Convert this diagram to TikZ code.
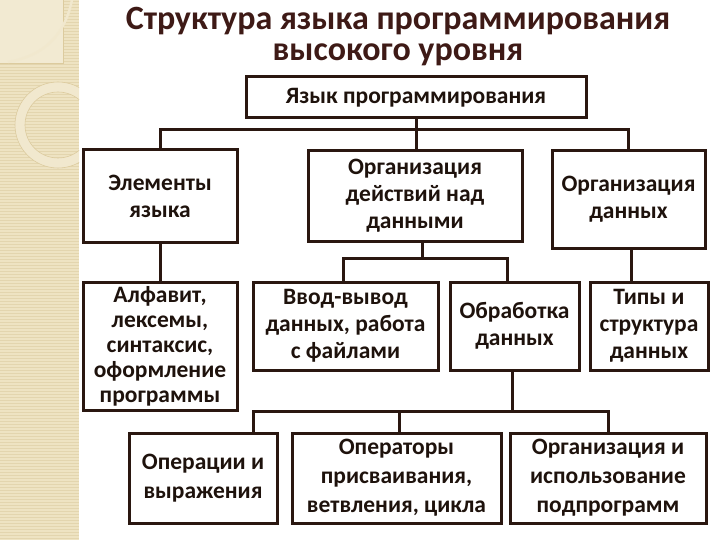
\documentclass[tikz,border=0pt]{standalone}
\usepackage{fontspec}
\setmainfont{Carlito}
\definecolor{linec}{HTML}{2A1710}
\definecolor{textc}{HTML}{1E120C}
\definecolor{titlec}{HTML}{3E1A16}
\definecolor{beige}{HTML}{EEE3C2}
\definecolor{texc}{HTML}{E3D5AE}
\definecolor{lightb}{HTML}{F2EAD2}
\definecolor{ringc}{HTML}{F1E8CE}
\definecolor{edgec}{HTML}{DCCB9E}
\begin{document}
\begin{tikzpicture}[x=1pt,y=-1pt,
  box/.style={draw=linec, line width=3pt, fill=white, align=center, inner sep=0pt,
    text=textc, font=\bfseries\fontsize{23.5}{27}\selectfont},
  conn/.style={draw=linec, line width=3pt}]
\useasboundingbox (0,0) rectangle (720,540);
\fill[white] (0,0) rectangle (720,540);
% left decorative strip
\fill[beige] (0,0) rectangle (79,540);
\foreach \i in {1,4,...,540} \draw[texc, line width=0.7pt] (0,\i) -- (79,\i);
\fill[lightb] (0,0) rectangle (63,63);
\draw[edgec, line width=0.8pt] (63,0) -- (63,63) -- (0,63);
\draw[ringc, line width=2.5pt] (72,0) .. controls (64,38) and (42,56) .. (8,62);
\begin{scope}
  \clip (0,0) rectangle (79,540);
  \fill[ringc, even odd rule] (58,125) circle[radius=43pt] (58,125) circle[radius=33pt];
  \draw[edgec, line width=0.6pt] (58,125) circle[radius=43pt] (58,125) circle[radius=33pt];
\end{scope}
% title
\node[text=titlec, font=\bfseries\fontsize{34}{31}\selectfont, align=center, anchor=center] (title) at (398,37)
  {Структура языка программирования\\высокого уровня};
% boxes
\node[box, minimum width=340pt, minimum height=41pt] (top) at (416,97.5) {Язык программирования};
\node[box, minimum width=154pt, minimum height=92pt] (elem) at (160,196) {Элементы\\языка};
\node[box, minimum width=214pt, minimum height=90pt] (act) at (415,196) {Организация\\действий над\\данными};
\node[box, minimum width=153pt, minimum height=97pt] (orgd) at (628.5,199.5) {Организация\\данных};
\node[box, minimum width=154pt, minimum height=128pt, font=\bfseries\fontsize{23.5}{25}\selectfont] (alf) at (160,346) {Алфавит,\\лексемы,\\синтаксис,\\оформление\\программы};
\node[box, minimum width=185pt, minimum height=88pt] (vvod) at (345.5,326) {Ввод-вывод\\данных, работа\\с файлами};
\node[box, minimum width=129pt, minimum height=88pt] (obr) at (514.5,326) {Обработка\\данных};
\node[box, minimum width=118pt, minimum height=88pt] (tip) at (649,326) {Типы и\\структура\\данных};
\node[box, minimum width=148pt, minimum height=90pt, font=\bfseries\fontsize{23.5}{29}\selectfont] (oper) at (203,478) {Операции и\\выражения};
\node[box, minimum width=209pt, minimum height=90pt, font=\bfseries\fontsize{23.5}{29}\selectfont] (opt) at (396.5,478) {Операторы\\присваивания,\\ветвления, цикла};
\node[box, minimum width=196pt, minimum height=90pt, font=\bfseries\fontsize{23.5}{29}\selectfont] (orgi) at (608,478) {Организация и\\использование\\подпрограмм};
% connectors level 1
\coordinate (j1) at (416,130);
\draw[conn] (top.south) -- (j1);
\draw[conn] (elem.north) -- (elem.north |- j1) -- (orgd.north |- j1) -- (orgd.north);
\draw[conn] (j1) -- (act.north -| j1);
\draw[conn] (elem.south) -- (alf.north);
% level 2 under act
\coordinate (j2) at (422,258);
\draw[conn] (j2 |- act.south) -- (j2);
\draw[conn] (343,0 |- vvod.north) -- (343,0 |- j2) -- (507,0 |- j2) -- (507,0 |- obr.north);
\draw[conn] (631,0 |- orgd.south) -- (631,0 |- tip.north);
% level 3 under obr
\coordinate (j3) at (512,411);
\draw[conn] (j3 |- obr.south) -- (j3);
\draw[conn] (253,0 |- oper.north) -- (253,0 |- j3) -- (608,0 |- j3) -- (608,0 |- orgi.north);
\draw[conn] (399,0 |- j3) -- (399,0 |- opt.north);
\end{tikzpicture}
\end{document}
